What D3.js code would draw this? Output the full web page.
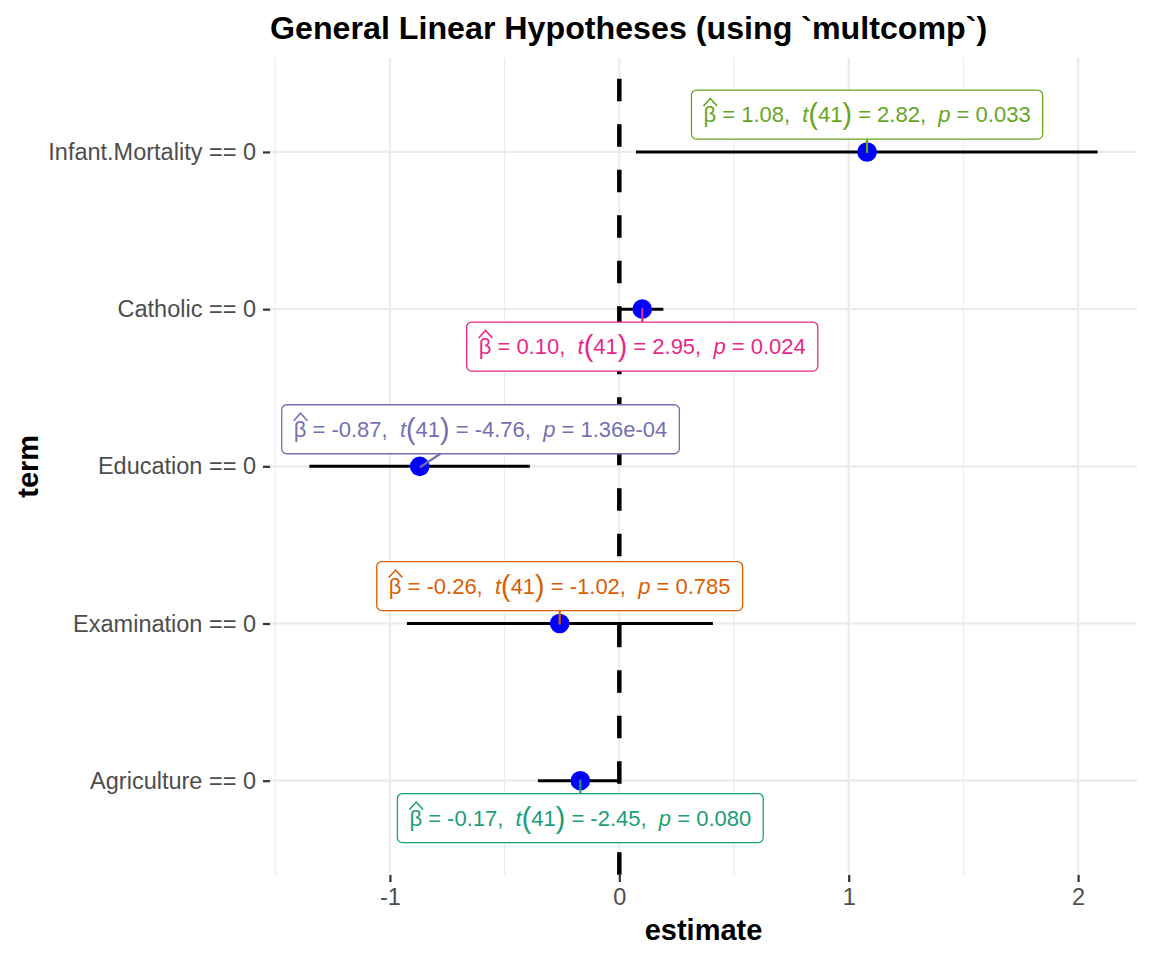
<!DOCTYPE html>
<html>
<head>
<meta charset="utf-8">
<script src="https://cdn.jsdelivr.net/npm/d3@7"></script>
<style>
  html, body { margin: 0; padding: 0; background: #ffffff; }
  svg { display: block; }
  text { font-family: "Liberation Sans", Arial, sans-serif; }
  .lbl { white-space: pre; }
</style>
</head>
<body>
<svg id="chart" width="1152" height="960"></svg>
<script>
// ---------------- data ----------------
const terms      = ["Infant.Mortality == 0", "Catholic == 0", "Education == 0", "Examination == 0", "Agriculture == 0"];
const estimates  = [1.08, 0.10, -0.87, -0.26, -0.17];
const confLow    = [0.073, 0.006, -1.351, -0.926, -0.355];
const confHigh   = [2.085, 0.192, -0.390, 0.408, 0.002];
const estLabels  = ["1.08", "0.10", "-0.87", "-0.26", "-0.17"];
const tLabels    = ["2.82", "2.95", "-4.76", "-1.02", "-2.45"];
const pLabels    = ["0.033", "0.024", "1.36e-04", "0.785", "0.080"];
const dfLabel    = "41";
const xTicks     = [-1, 0, 1, 2];
const xMinor     = [-1.5, -0.5, 0.5, 1.5];
const labelColors = ["#66A61E", "#E7298A", "#7570B3", "#D95F02", "#1B9E77"];
// repelled label placement (data units: x shift in estimate units, y shift in category steps; negative = above)
const labelDx    = [0, 0, 0.265, 0, 0];
const labelDy    = [-0.238, 0.238, -0.236, -0.238, 0.238];

// ---------------- layout ----------------
const panel = { left: 270, right: 1137, top: 57.65, bottom: 875 };
const svg = d3.select("#chart");

const lo = d3.min(confLow), hi = d3.max(confHigh);
const pad = (hi - lo) * 0.05;
const x = d3.scaleLinear().domain([lo - pad, hi + pad]).range([panel.left, panel.right]);
const y = d3.scalePoint().domain(terms).range([panel.top, panel.bottom]).padding(0.6);
const step = y.step();

const grid = svg.append("g");
grid.selectAll(".minor").data(xMinor).enter().append("line")
  .attr("x1", d => x(d)).attr("x2", d => x(d))
  .attr("y1", panel.top).attr("y2", panel.bottom)
  .attr("stroke", "#EBEBEB").attr("stroke-width", 1.1);
grid.selectAll(".major").data(xTicks).enter().append("line")
  .attr("x1", d => x(d)).attr("x2", d => x(d))
  .attr("y1", panel.top).attr("y2", panel.bottom)
  .attr("stroke", "#EBEBEB").attr("stroke-width", 2.2);
grid.selectAll(".hmajor").data(terms).enter().append("line")
  .attr("x1", panel.left).attr("x2", panel.right)
  .attr("y1", d => y(d)).attr("y2", d => y(d))
  .attr("stroke", "#EBEBEB").attr("stroke-width", 2.2);

// axes
const xAxis = d3.axisBottom(x).tickValues(xTicks).tickSize(7).tickPadding(5).tickFormat(d => String(d));
const gx = svg.append("g").attr("transform", `translate(0,${panel.bottom})`).call(xAxis);
gx.select(".domain").remove();
gx.selectAll(".tick line").attr("stroke", "#333333").attr("stroke-width", 2.2);
gx.selectAll(".tick text").attr("fill", "#4D4D4D").attr("font-size", 23.5)
  .attr("font-family", "Liberation Sans, Arial, sans-serif").attr("dy", "0.75em");

const yAxis = d3.axisLeft(y).tickSize(7).tickPadding(7);
const gy = svg.append("g").attr("transform", `translate(${panel.left},0)`).call(yAxis);
gy.select(".domain").remove();
gy.selectAll(".tick line").attr("stroke", "#333333").attr("stroke-width", 2.2);
gy.selectAll(".tick text").attr("fill", "#4D4D4D").attr("font-size", 23.5)
  .attr("font-family", "Liberation Sans, Arial, sans-serif");

// zero reference line
svg.append("line")
  .attr("x1", x(0)).attr("x2", x(0)).attr("y1", panel.top + 21).attr("y2", panel.bottom)
  .attr("stroke", "#000").attr("stroke-width", 4.5).attr("stroke-dasharray", "22.5,23");

// error bars
const rows = terms.map((t, i) => ({ term: t, est: estimates[i], lo: confLow[i], hi: confHigh[i], i }));
svg.append("g").selectAll("line").data(rows).enter().append("line")
  .attr("x1", d => x(d.lo)).attr("x2", d => x(d.hi))
  .attr("y1", d => y(d.term)).attr("y2", d => y(d.term))
  .attr("stroke", "#000").attr("stroke-width", 3);

// points
svg.append("g").selectAll("circle").data(rows).enter().append("circle")
  .attr("cx", d => x(d.est)).attr("cy", d => y(d.term)).attr("r", 9.8)
  .attr("fill", "#0000FF");

// labels
const fs = 22;
const lg = svg.append("g");
rows.forEach(d => {
  const col = labelColors[d.i];
  const cx = x(d.est + labelDx[d.i]);
  const cy = y(d.term) + labelDy[d.i] * step;
  const g = lg.append("g");
  const seg = g.append("line").attr("stroke", col).attr("stroke-width", 2.2);
  const rect = g.append("rect").attr("fill", "#fff").attr("stroke", col)
    .attr("stroke-width", 1.3).attr("rx", 5).attr("ry", 5);
  const txt = g.append("text").attr("class", "lbl").attr("fill", col).attr("font-size", fs)
    .attr("y", cy + fs * 0.36).attr("x", 0);
  txt.append("tspan").text("β");
  txt.append("tspan").text(" = " + estLabels[d.i] + ",  ");
  txt.append("tspan").attr("font-style", "italic").text("t");
  txt.append("tspan").attr("font-size", fs * 1.3).attr("dy", fs * 0.09).text("(");
  txt.append("tspan").attr("dy", -fs * 0.09).text(dfLabel);
  txt.append("tspan").attr("font-size", fs * 1.3).attr("dy", fs * 0.09).text(")");
  txt.append("tspan").attr("dy", -fs * 0.09).text(" = " + tLabels[d.i] + ",  ");
  txt.append("tspan").attr("font-style", "italic").text("p");
  txt.append("tspan").text(" = " + pLabels[d.i]);
  const w = txt.node().getComputedTextLength();
  const x0 = cx - w / 2;
  txt.attr("x", x0);
  // hat over beta
  const bw = txt.select("tspan").node().getComputedTextLength();
  const hy = cy - fs * 0.66;
  g.append("path")
    .attr("d", `M${x0},${hy + 6} L${x0 + bw / 2 + 0.5},${hy - 1.5} L${x0 + bw + 1},${hy + 6}`)
    .attr("fill", "none").attr("stroke", col).attr("stroke-width", 1.6);
  const padX = 12, boxH = 49;
  const bx = x0 - padX, bxw = w + 2 * padX, by = cy - boxH / 2;
  rect.attr("x", bx).attr("y", by).attr("width", bxw).attr("height", boxH);
  // segment from point toward label centre, clipped at box edge
  const px = x(d.est), py = y(d.term);
  const dx = cx - px, dy = cy - py;
  const tEdge = Math.abs(dy) > 0 ? (Math.abs(dy) - boxH / 2) / Math.abs(dy) : 0;
  seg.attr("x1", px).attr("y1", py - Math.sign(dy) * 1)
     .attr("x2", px + dx * tEdge).attr("y2", py + dy * tEdge);
});

// titles
svg.append("text").attr("x", panel.left).attr("y", 39)
  .attr("font-size", 32.2).attr("font-weight", "bold").attr("fill", "#000")
  .text("General Linear Hypotheses (using `multcomp`)");
svg.append("text").attr("x", (panel.left + panel.right) / 2).attr("y", 940)
  .attr("text-anchor", "middle").attr("font-size", 29).attr("font-weight", "bold").attr("fill", "#000")
  .text("estimate");
svg.append("text").attr("transform", `translate(38,${(panel.top + panel.bottom) / 2}) rotate(-90)`)
  .attr("text-anchor", "middle").attr("font-size", 29).attr("font-weight", "bold").attr("fill", "#000")
  .text("term");
</script>
</body>
</html>
